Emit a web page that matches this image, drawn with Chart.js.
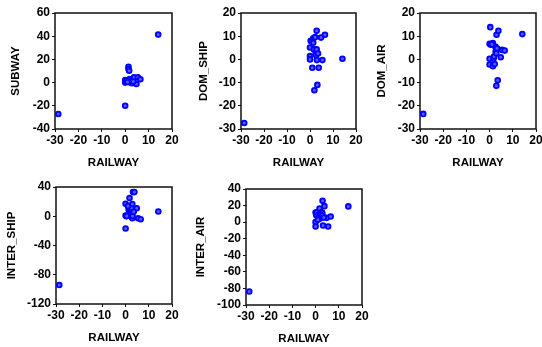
<!DOCTYPE html>
<html>
<head>
<meta charset="utf-8">
<script src="https://cdn.jsdelivr.net/npm/chart.js@4"></script>
<style>
  html, body { margin: 0; padding: 0; background: #fff; overflow: hidden; }
  body { width: 542px; height: 347px; position: relative; }
  canvas { position: absolute; }
</style>
</head>
<body>
<canvas id="c1"></canvas>
<canvas id="c2"></canvas>
<canvas id="c3"></canvas>
<canvas id="c4"></canvas>
<canvas id="c5"></canvas>
<script>
// Shared x variable (RAILWAY), one value per observation
const railway = [-28.6, 14.1, 0.0, 0.0, 0.0, 0.3, 0.5, 1.4, 1.4, 1.7, 1.9, 2.2,
                 2.5, 2.6, 2.9, 2.9, 3.0, 3.2, 3.8, 4.8, 5.4, 6.5, 1.0, 3.5];

// y variables, same observation order
const subway    = [-27.1, 41.4, 2.3, 0.0, -20.0, 1.0, 1.4, 13.7, 11.7, 10.3, 3.1, 0.0,
                   2.3, 1.0, 2.3, -0.5, 1.5, 3.0, 4.6, -1.1, 4.6, 2.9, 0.5, 0.9];
const domShip   = [-27.4, 0.3, 5.1, 1.4, 0.0, 8.0, 7.8, 9.1, 7.2, 4.3, -13.3, 9.6,
                   3.0, 1.9, 12.3, 4.3, -0.3, -11.0, -3.6, 9.4, -0.3, 10.6, -3.6, 2.5];
const domAir    = [-23.5, 10.9, 6.7, 0.3, -2.2, 13.9, 6.3, 7.0, -2.9, 0.3, 1.2, -2.0,
                   5.5, 3.3, 2.6, -11.4, 10.6, 4.8, 12.3, 0.9, 4.1, 3.8, 6.5, -9.0];
const interShip = [-94.0, 6.5, -16.7, 17.0, 1.0, 0.0, 0.5, 8.0, 10.0, 25.0, 12.0, 7.4,
                   9.7, 11.0, 16.7, -2.8, 0.5, 33.0, 33.0, 11.0, -2.8, -4.2, 14.0, 6.0];
const interAir  = [-83.7, 19.0, 11.7, 0.0, -5.2, 8.4, 12.0, 9.3, 6.0, 16.5, 4.4, 10.0,
                   7.0, 12.0, 10.9, 8.4, 25.7, -4.0, 19.3, 5.2, -5.2, 6.8, 3.0, 5.5];

// Axis ranges / tick steps
const xRange = [-30, 20, 10];
const panels = [
  { id: 'c1', title: 'SUBWAY',     y: subway,    yRange: [-40, 60, 20],   box: [55, 13, 117, 116],      tpad: 14 },
  { id: 'c2', title: 'DOM_SHIP',   y: domShip,   yRange: [-30, 20, 10],   box: [240.5, 13, 115.5, 116], tpad: 15.6 },
  { id: 'c3', title: 'DOM_AIR',    y: domAir,    yRange: [-30, 20, 10],   box: [420, 13, 116, 116],     tpad: 15.1 },
  { id: 'c4', title: 'INTER_SHIP', y: interShip, yRange: [-120, 40, 40],  box: [56, 187, 116.5, 117],   tpad: 9.1 },
  { id: 'c5', title: 'INTER_AIR',  y: interAir,  yRange: [-100, 40, 20],  box: [246, 189, 116, 116],    tpad: 8.1 }
];

const Y_W = 60, PAD_T = 10, PAD_R = 8, X_H = 45;
const FONT = 'Arial, "Liberation Sans", sans-serif';

// Full box around the plot area
const framePlugin = {
  id: 'frame',
  beforeDatasetsDraw(chart) {
    const a = chart.chartArea, ctx = chart.ctx;
    ctx.save();
    ctx.strokeStyle = '#111';
    ctx.lineWidth = 1.5;
    ctx.strokeRect(a.left, a.top, a.right - a.left, a.bottom - a.top);
    ctx.restore();
  }
};

panels.forEach(p => {
  const [left, top, w, h] = p.box;
  const canvas = document.getElementById(p.id);
  canvas.width = Y_W + w + PAD_R;
  canvas.height = PAD_T + h + X_H;
  canvas.style.left = (left - Y_W) + 'px';
  canvas.style.top = (top - PAD_T) + 'px';

  const points = railway.map((x, i) => ({ x: x, y: p.y[i] }));

  new Chart(canvas, {
    type: 'scatter',
    data: {
      datasets: [{
        data: points,
        pointRadius: 2.4,
        pointBorderWidth: 1.8,
        borderColor: '#0000ff',
        backgroundColor: '#5a5aff',
        clip: false
      }]
    },
    options: {
      responsive: false,
      animation: false,
      layout: { padding: { top: PAD_T, right: PAD_R, left: 0, bottom: 0 } },
      plugins: { legend: { display: false }, tooltip: { enabled: false } },
      scales: {
        x: {
          min: xRange[0], max: xRange[1],
          afterFit: s => { s.height = X_H; },
          border: { display: false },
          grid: { drawOnChartArea: false, drawTicks: true, tickLength: 3, color: '#111' },
          ticks: { stepSize: xRange[2], padding: 1, color: '#000', maxRotation: 0, autoSkip: false,
                   font: { family: FONT, size: 12, weight: 'bold' } },
          title: { display: true, text: 'RAILWAY', color: '#000', padding: { top: 0, bottom: 4 },
                   font: { family: FONT, size: 11.5, weight: 'bold' } }
        },
        y: {
          min: p.yRange[0], max: p.yRange[1],
          afterFit: s => { s.width = Y_W; },
          border: { display: false },
          grid: { drawOnChartArea: false, drawTicks: true, tickLength: 3, color: '#111' },
          ticks: { stepSize: p.yRange[2], padding: 2, color: '#000', autoSkip: false,
                   font: { family: FONT, size: 12, weight: 'bold' } },
          title: { display: true, text: p.title, color: '#000', padding: { top: p.tpad, bottom: 0 },
                   font: { family: FONT, size: 11.5, weight: 'bold' } }
        }
      }
    },
    plugins: [framePlugin]
  });
});
</script>
</body>
</html>
